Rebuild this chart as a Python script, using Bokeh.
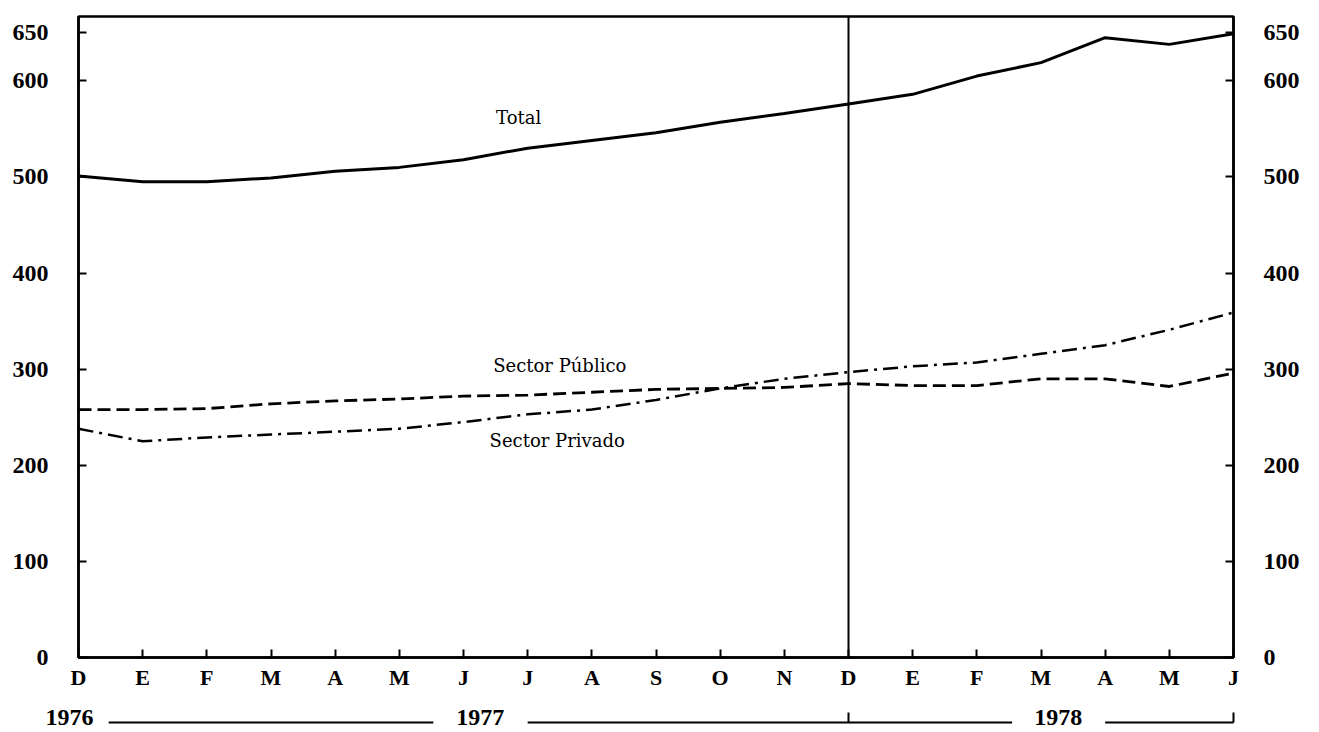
from bokeh.plotting import figure
from bokeh.models import Range1d, LinearAxis, FixedTicker, Span
from bokeh.embed import file_html
from bokeh.resources import INLINE
from bokeh.core.properties import value

# ---------------- data ----------------
months = ["D", "E", "F", "M", "A", "M", "J", "J", "A", "S", "O", "N",
          "D", "E", "F", "M", "A", "M", "J"]
total = [501, 495, 495, 499, 506, 510, 518, 530, 538, 546, 557, 566,
         576, 586, 605, 619, 645, 638, 649]
sector_publico = [258, 258, 259, 264, 267, 269, 272, 273, 276, 279, 280, 281,
                  285, 283, 283, 290, 290, 282, 296]
sector_privado = [238, 225, 229, 232, 235, 238, 245, 253, 258, 268, 280, 290,
                  297, 303, 307, 316, 325, 341, 359]
y_ticks = [0, 100, 200, 300, 400, 500, 600, 650]
years = ["1976", "1977", "1978"]
series_names = ["Total", "Sector Público", "Sector Privado"]

x = list(range(len(months)))
year_break = 12          # December 1977 (start of 1978 segment)

# ---------------- layout constants ----------------
W = 1316
LEFT, TOP = 78, 16
FRAME_W, FRAME_H = 1155, 642
MAIN_H = 692
YEAR_H = 39
SERIF = "Liberation Serif"

# ---------------- main figure ----------------
p = figure(width=W, height=MAIN_H,
           x_range=Range1d(0, len(months) - 1), y_range=Range1d(0, 667),
           output_backend="svg", toolbar_location=None,
           min_border_left=LEFT, min_border_right=W - LEFT - FRAME_W,
           min_border_top=TOP, min_border_bottom=MAIN_H - TOP - FRAME_H)
p.xgrid.visible = False
p.ygrid.visible = False
p.background_fill_color = "white"
p.border_fill_color = "white"
p.outline_line_color = "black"
p.outline_line_width = 2.5


def style_axis(ax, size):
    ax.axis_line_color = "black"
    ax.axis_line_width = 2.5
    ax.major_tick_line_color = "black"
    ax.major_tick_line_width = 2
    ax.major_tick_in = 8
    ax.major_tick_out = 0
    ax.minor_tick_line_color = None
    ax.major_label_text_font = SERIF
    ax.major_label_text_font_style = "bold"
    ax.major_label_text_font_size = size
    ax.major_label_text_color = "black"


xa = p.xaxis[0]
xa.ticker = FixedTicker(ticks=x)
xa.major_label_overrides = {i: m for i, m in enumerate(months)}
style_axis(xa, "22px")
xa.major_label_standoff = 7

ya = p.yaxis[0]
ya.ticker = FixedTicker(ticks=y_ticks)
style_axis(ya, "24px")
ya.major_label_standoff = 30

ra = LinearAxis(ticker=FixedTicker(ticks=y_ticks))
style_axis(ra, "24px")
ra.major_label_standoff = 30
p.add_layout(ra, "right")

# vertical year divider
p.add_layout(Span(location=year_break, dimension="height",
                  line_color="black", line_width=2))

# series
p.line(x, total, line_color="black", line_width=3)
p.line(x, sector_publico, line_color="black", line_width=2.8, line_dash="13 6")
p.line(x, sector_privado, line_color="black", line_width=2.5,
       line_dash="15 6 3 6")

# series labels
p.text(x=[6.86, 7.50, 7.46], y=[562, 304, 226], text=series_names,
       text_font=value("DejaVu Serif"), text_font_size="18px",
       text_color="black", text_align="center", text_baseline="middle")

# ---------------- year row (same x scale, full-width frame) ----------------
step = FRAME_W / (len(months) - 1)
yr = figure(width=W, height=YEAR_H,
            x_range=Range1d(-LEFT / step, (W - LEFT) / step),
            y_range=Range1d(0, YEAR_H),
            output_backend="svg", toolbar_location=None,
            x_axis_location=None, y_axis_location=None,
            min_border_left=0, min_border_right=0,
            min_border_top=0, min_border_bottom=0)
yr.xgrid.visible = False
yr.ygrid.visible = False
yr.outline_line_color = None
yr.background_fill_color = "white"
yr.border_fill_color = "white"

year_x = [-0.14, 6.26, 15.27]
yr.text(x=year_x, y=[14, 14, 14], text=years,
        text_font=value(SERIF), text_font_style="bold",
        text_font_size="24px", text_color="black",
        text_align="center", text_baseline="middle")

bracket_x0 = [0.47, 7.0, 16.0]
bracket_x1 = [5.53, 14.55, 18.0]
yr.segment(x0=bracket_x0, y0=[9, 9, 9], x1=bracket_x1, y1=[9, 9, 9],
           line_color="black", line_width=2)
tick_x = [year_break, len(months) - 1]
yr.segment(x0=tick_x, y0=[9, 9], x1=tick_x, y1=[19, 19],
           line_color="black", line_width=2)

open("out.html", "w").write(file_html([p, yr], INLINE))
